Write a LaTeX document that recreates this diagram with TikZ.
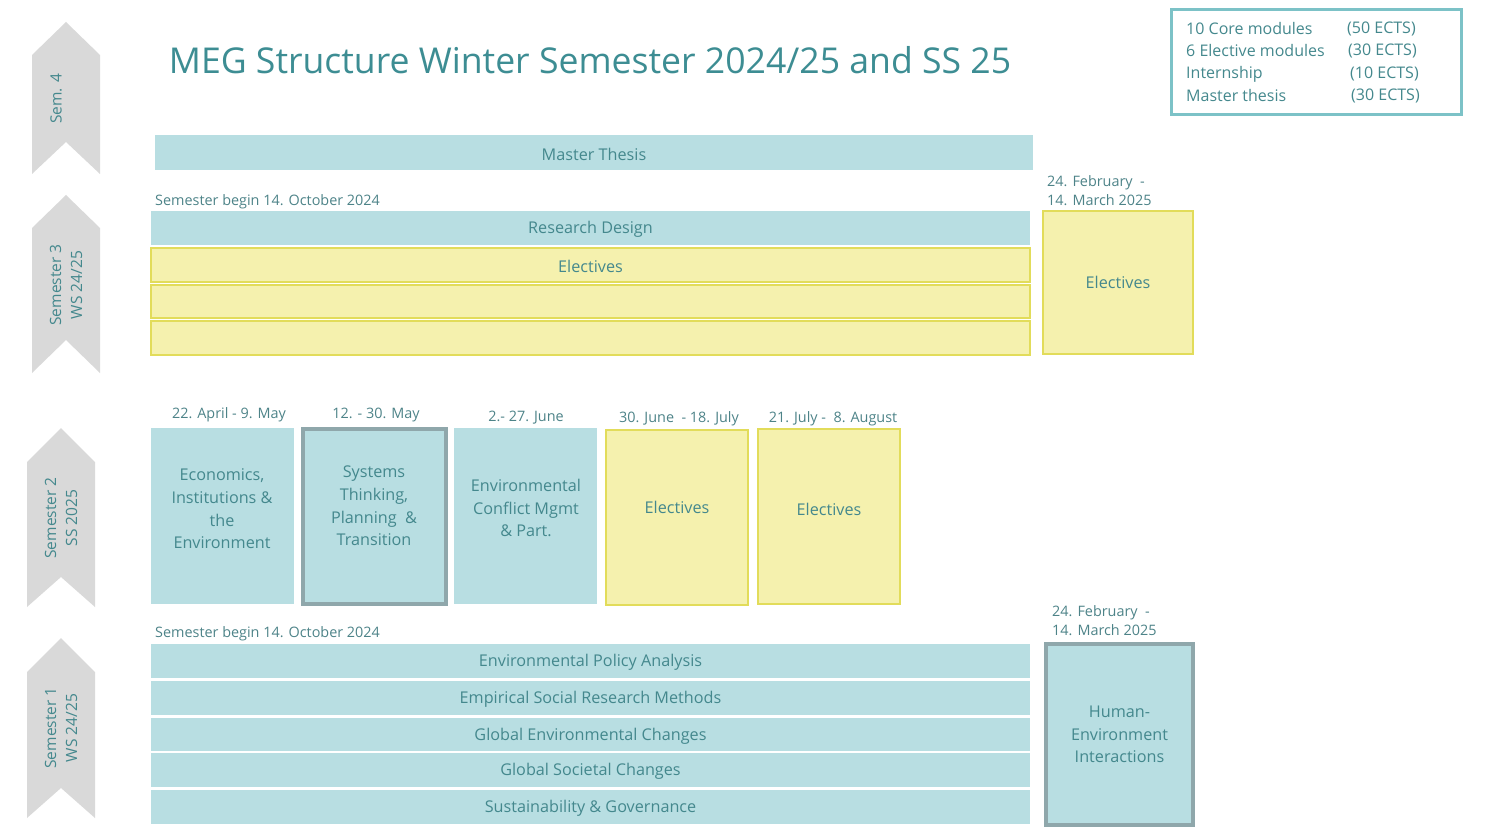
\documentclass[tikz,border=0pt]{standalone}
\usepackage{fontspec}
\setmainfont{Open Sans}
\definecolor{tealfill}{HTML}{B8DEE2}
\definecolor{yelfill}{HTML}{F5F1AE}
\definecolor{yeldraw}{HTML}{E2DC5A}
\definecolor{grayframe}{HTML}{8FA7AB}
\definecolor{chevgray}{HTML}{D9D9D9}
\definecolor{titlecol}{HTML}{3D8D93}
\definecolor{boxtext}{HTML}{44888D}
\definecolor{datetext}{HTML}{4D8388}
\definecolor{legframe}{HTML}{7CC2C7}
\begin{document}
\begin{tikzpicture}[x=1pt,y=-1pt,
  base/.style={inner sep=0pt, outer sep=0pt, anchor=north west},
  tealbar/.style={base, fill=tealfill},
  yelbar/.style={base, fill=yelfill, draw=yeldraw, line width=1.5pt},
  framebox/.style={base, fill=tealfill, draw=grayframe, line width=3.5pt},
  boxlabel/.style={text=boxtext, font=\fontsize{16.2}{22.6}\selectfont, align=center, inner sep=0pt},
  barlabel/.style={boxlabel, yshift=-1.5pt},
  datelabel/.style={text=datetext, font=\fontsize{14.4}{19.8}\selectfont, align=left, inner sep=0pt},
  leglabel/.style={text=boxtext, font=\fontsize{16}{20}\selectfont, anchor=west, inner sep=0pt},
  chevlabel/.style={text=boxtext, font=\fontsize{15.5}{21}\selectfont, align=center, rotate=90, inner sep=0pt},
  chevron/.style={fill=chevgray, draw=none}
]
\useasboundingbox (0,0) rectangle (1487,834);

% chevrons
\fill[chevron] (32,55) -- (66,22) -- (100,55) -- (100,174) -- (66,142) -- (32,174) -- cycle;
\fill[chevron] (32,228) -- (66,195) -- (100,228) -- (100,373) -- (66,340) -- (32,373) -- cycle;
\fill[chevron] (27,462) -- (61,428) -- (95,462) -- (95,607) -- (61,577) -- (27,607) -- cycle;
\fill[chevron] (27,672) -- (61,638) -- (95,672) -- (95,818) -- (61,788) -- (27,818) -- cycle;
\node[chevlabel] (s4) at (56,99) {Sem. 4};
\node[chevlabel] (s3) at (66,285) {Semester 3\\WS 24/25};
\node[chevlabel] (s2) at (61,518) {Semester 2\\SS 2025};
\node[chevlabel] (s1) at (61,728) {Semester 1\\WS 24/25};

% title
\node[text=titlecol, font=\fontsize{35.6}{40}\selectfont, inner sep=0pt] (title) at (590,60) {MEG Structure Winter Semester 2024/25 and SS 25};

% legend
\draw[legframe, line width=3pt] (1171,10) rectangle (1461,115);
\node[leglabel] (l1a) at (1186,29) {10 Core modules};
\node[leglabel] (l2a) at (1186,51) {6 Elective modules};
\node[leglabel] (l3a) at (1186,74) {Internship};
\node[leglabel] (l4a) at (1186,96) {Master thesis};
\node[leglabel] (l1b) at (1347,29) {(50 ECTS)};
\node[leglabel] (l2b) at (1348,51) {(30 ECTS)};
\node[leglabel] (l3b) at (1350,74) {(10 ECTS)};
\node[leglabel] (l4b) at (1351,96) {(30 ECTS)};

% semester 4 / 3
\node[tealbar, minimum width=878, minimum height=35] (mt) at (155,135) {};
\node[barlabel] (mtt) at (mt.center) {Master Thesis};
\node[datelabel, anchor=west] (sb3) at (155,202) {Semester begin 14. October 2024};
\node[tealbar, minimum width=879, minimum height=34] (rd) at (151,211) {};
\node[barlabel] (rdt) at (rd.center) {Research Design};
\node[yelbar, minimum width=879, minimum height=34] (e1) at (151,248) {};
\node[barlabel] (e1t) at (e1.center) {Electives};
\node[yelbar, minimum width=879, minimum height=33] (e2) at (151,285) {};
\node[yelbar, minimum width=879, minimum height=34] (e3) at (151,321) {};
\node[datelabel, anchor=north west] (d3r) at (1047,175) {24. February \ -\\14. March 2025};
\node[yelbar, minimum width=150, minimum height=143] (er) at (1043,211) {};
\node[boxlabel] (ert) at (er.center) {Electives};

% semester 2
\node[datelabel] (d21) at (229,415) {22. April - 9. May};
\node[datelabel] (d22) at (376,415) {12. - 30. May};
\node[datelabel] (d23) at (526,418) {2.- 27. June};
\node[datelabel] (d24) at (679,419) {30. June \ - 18. July};
\node[datelabel] (d25) at (833,419) {21. July - \ 8. August};
\node[tealbar, minimum width=143, minimum height=176] (b1) at (151,428) {};
\node[boxlabel] (b1t) at (222,509) {Economics,\\Institutions \&\\the\\Environment};
\node[framebox, minimum width=143, minimum height=175] (b2) at (303,429) {};
\node[boxlabel] (b2t) at (374,506) {Systems\\Thinking,\\Planning \ \&\\Transition};
\node[tealbar, minimum width=143, minimum height=176] (b3) at (454,428) {};
\node[boxlabel] (b3t) at (526,508) {Environmental\\Conflict Mgmt\\\& Part.};
\node[yelbar, minimum width=142, minimum height=175] (b4) at (606,430) {};
\node[boxlabel] (b4t) at (677,507) {Electives};
\node[yelbar, minimum width=142, minimum height=175] (b5) at (758,429) {};
\node[boxlabel] (b5t) at (829,509) {Electives};

% semester 1
\node[datelabel, anchor=west] (sb1) at (155,634) {Semester begin 14. October 2024};
\node[tealbar, minimum width=879, minimum height=34] (c1) at (151,644) {};
\node[barlabel] (c1t) at (c1.center) {Environmental Policy Analysis};
\node[tealbar, minimum width=879, minimum height=34] (c2) at (151,681) {};
\node[barlabel] (c2t) at (c2.center) {Empirical Social Research Methods};
\node[tealbar, minimum width=879, minimum height=33] (c3) at (151,718) {};
\node[barlabel] (c3t) at (c3.center) {Global Environmental Changes};
\node[tealbar, minimum width=879, minimum height=34] (c4) at (151,753) {};
\node[barlabel] (c4t) at (c4.center) {Global Societal Changes};
\node[tealbar, minimum width=879, minimum height=34] (c5) at (151,790) {};
\node[barlabel] (c5t) at (c5.center) {Sustainability \& Governance};
\node[datelabel, anchor=north west] (d1r) at (1052,605) {24. February \ -\\14. March 2025};
\node[framebox, minimum width=147, minimum height=181] (hei) at (1046,644) {};
\node[boxlabel] (heit) at (hei.center) {Human-\\Environment\\Interactions};
\end{tikzpicture}
\end{document}
